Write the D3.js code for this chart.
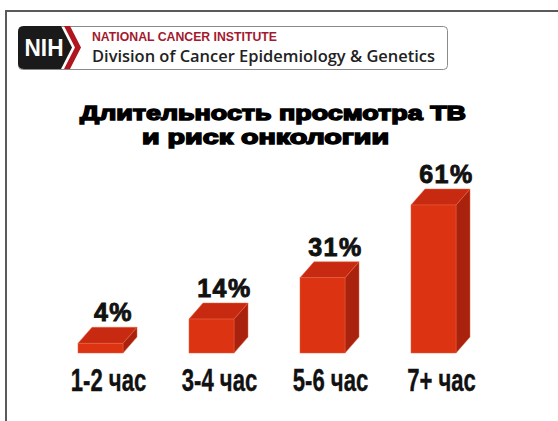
<!DOCTYPE html>
<html>
<head>
<meta charset="utf-8">
<script src="https://cdn.jsdelivr.net/npm/d3@7"></script>
<style>
  html, body { margin: 0; padding: 0; background: #fff; }
  svg { display: block; }
</style>
</head>
<body>
<div id="chart"></div>
<script>
var categories = ['1-2 час', '3-4 час', '5-6 час', '7+ час'];
var values = [4, 14, 31, 61];
var valueLabels = ['4%', '14%', '31%', '61%'];
var titleLines = ['Длительность просмотра ТВ', 'и риск онкологии'];
var orgName = 'NATIONAL CANCER INSTITUTE';
var divisionName = 'Division of Cancer Epidemiology & Genetics';

var BarChart3d = {
  create: function() {
    var instance = Object.assign({}, this.prototype);
    this.init.apply(instance, arguments);
    return instance;
  },

  init: function(config) {
    this.width = 558;
    this.height = 421;
    this.depth = { dx: 14, dy: -16 };
    this.colors = config.colors;

    this.svg = d3.select(config.elem)
      .append('svg')
      .attr('width', this.width)
      .attr('height', this.height);

    this.x = d3.scaleBand()
      .domain(categories)
      .range([78, 456])
      .paddingInner(0.5946)
      .paddingOuter(0);

    this.y = d3.scaleLinear()
      .domain([0, 61])
      .range([353, 205]);
  },

  prototype: {
    drawFrame: function() {
      var frame = this.svg.append('g').attr('class', 'frame');
      frame.append('path')
        .attr('d', 'M6,421 V11 H558')
        .attr('fill', 'none')
        .attr('stroke', '#5a5a5a')
        .attr('stroke-width', 2);
    },

    drawLogo: function() {
      var logo = this.svg.append('g').attr('class', 'logo');

      logo.append('rect')
        .attr('x', 18.5).attr('y', 26.5)
        .attr('width', 429).attr('height', 43)
        .attr('rx', 4)
        .attr('fill', '#fff')
        .attr('stroke', '#8a8a8a')
        .attr('stroke-width', 1);

      // black NIH block with pointed right side
      logo.append('path')
        .attr('d', 'M24,26 H61 L72,47.5 L61,69 H24 Q18,69 18,63 V32 Q18,26 24,26 Z')
        .attr('fill', '#1a1a1a');

      // red chevron
      logo.append('path')
        .attr('d', 'M64,26 H70 L81,47.5 L70,69 H64 L75,47.5 Z')
        .attr('fill', '#b0161f');

      logo.append('text')
        .attr('x', 44).attr('y', 56)
        .attr('text-anchor', 'middle')
        .attr('font-family', 'Liberation Sans, Arial, sans-serif')
        .attr('font-weight', 'bold')
        .attr('font-size', 23)
        .attr('fill', '#fff')
        .attr('textLength', 39)
        .attr('lengthAdjust', 'spacingAndGlyphs')
        .text('NIH');

      logo.append('text')
        .attr('x', 92).attr('y', 41)
        .attr('font-family', 'Liberation Sans, Arial, sans-serif')
        .attr('font-weight', 'bold')
        .attr('font-size', 13)
        .attr('fill', '#a3192f')
        .attr('textLength', 185)
        .attr('lengthAdjust', 'spacingAndGlyphs')
        .text(orgName);

      logo.append('text')
        .attr('x', 92).attr('y', 62)
        .attr('font-family', 'Open Sans, sans-serif')
        .attr('font-weight', 600)
        .attr('font-size', 16.5)
        .attr('fill', '#222')
        .attr('textLength', 343)
        .attr('lengthAdjust', 'spacingAndGlyphs')
        .text(divisionName);
    },

    drawTitle: function() {
      var lines = [
        { text: titleLines[0], x: 80, y: 120, len: 386 },
        { text: titleLines[1], x: 142, y: 144, len: 247 }
      ];

      this.svg.append('g')
        .attr('class', 'title')
        .selectAll('text')
        .data(lines)
        .enter()
        .append('text')
        .attr('x', function(d) { return d.x; })
        .attr('y', function(d) { return d.y; })
        .attr('font-family', 'Liberation Sans, Arial, sans-serif')
        .attr('font-weight', 'bold')
        .attr('font-size', 21)
        .attr('fill', '#000')
        .attr('stroke', '#000')
        .attr('stroke-width', 1.5)
        .attr('textLength', function(d) { return d.len; })
        .attr('lengthAdjust', 'spacingAndGlyphs')
        .text(function(d) { return d.text; });
    },

    draw: function() {
      var x = this.x;
      var y = this.y;
      var bw = x.bandwidth();
      var dx = this.depth.dx;
      var dy = this.depth.dy;
      var base = y(0);
      var colors = this.colors;

      var data = categories.map(function(c, i) {
        return { cat: c, value: values[i], label: valueLabels[i] };
      });

      var bars = this.svg.append('g')
        .attr('class', 'bars')
        .selectAll('g')
        .data(data)
        .enter()
        .append('g');

      // right side face
      bars.append('path')
        .attr('d', function(d) {
          var x0 = x(d.cat) + bw;
          var yv = y(d.value);
          return 'M' + x0 + ',' + yv +
            ' L' + (x0 + dx) + ',' + (yv + dy) +
            ' L' + (x0 + dx) + ',' + (base + dy) +
            ' L' + x0 + ',' + base + ' Z';
        })
        .attr('fill', colors.side)
        .attr('stroke', colors.edge)
        .attr('stroke-width', 0.5);

      // top face
      bars.append('path')
        .attr('d', function(d) {
          var x0 = x(d.cat);
          var yv = y(d.value);
          return 'M' + x0 + ',' + yv +
            ' L' + (x0 + dx) + ',' + (yv + dy) +
            ' L' + (x0 + bw + dx) + ',' + (yv + dy) +
            ' L' + (x0 + bw) + ',' + yv + ' Z';
        })
        .attr('fill', colors.top)
        .attr('stroke', colors.edge)
        .attr('stroke-width', 0.5);

      // front face
      bars.append('rect')
        .attr('x', function(d) { return x(d.cat); })
        .attr('y', function(d) { return y(d.value); })
        .attr('width', bw)
        .attr('height', function(d) { return base - y(d.value); })
        .attr('fill', colors.front)
        .attr('stroke', colors.edge)
        .attr('stroke-width', 0.5);

      // value labels
      bars.append('text')
        .attr('x', function(d) { return x(d.cat) + (bw + dx) / 2 + 6; })
        .attr('y', function(d) { return y(d.value) + dy - 6; })
        .attr('text-anchor', 'middle')
        .attr('font-family', 'Liberation Sans, Arial, sans-serif')
        .attr('font-weight', 'bold')
        .attr('font-size', 25)
        .attr('letter-spacing', 1.5)
        .attr('fill', '#111')
        .attr('stroke', '#111')
        .attr('stroke-width', 0.9)
        .text(function(d) { return d.label; });

      // category labels, condensed
      bars.append('text')
        .attr('transform', function(d) {
          return 'translate(' + (x(d.cat) + (bw + dx) / 2 + 1) + ',391) scale(0.69,1)';
        })
        .attr('text-anchor', 'middle')
        .attr('font-family', 'Liberation Sans, Arial, sans-serif')
        .attr('font-weight', 'bold')
        .attr('font-size', 32)
        .attr('fill', '#111')
        .attr('stroke', '#111')
        .attr('stroke-width', 0.4)
        .text(function(d) { return d.cat; });
    }
  }
};

var chart = BarChart3d.create({
  elem: '#chart',
  colors: {
    front: '#dc3313',
    top: '#c72a10',
    side: '#a9220d',
    edge: '#e8603f'
  }
});

chart.drawFrame();
chart.drawLogo();
chart.drawTitle();
chart.draw();
</script>
</body>
</html>
